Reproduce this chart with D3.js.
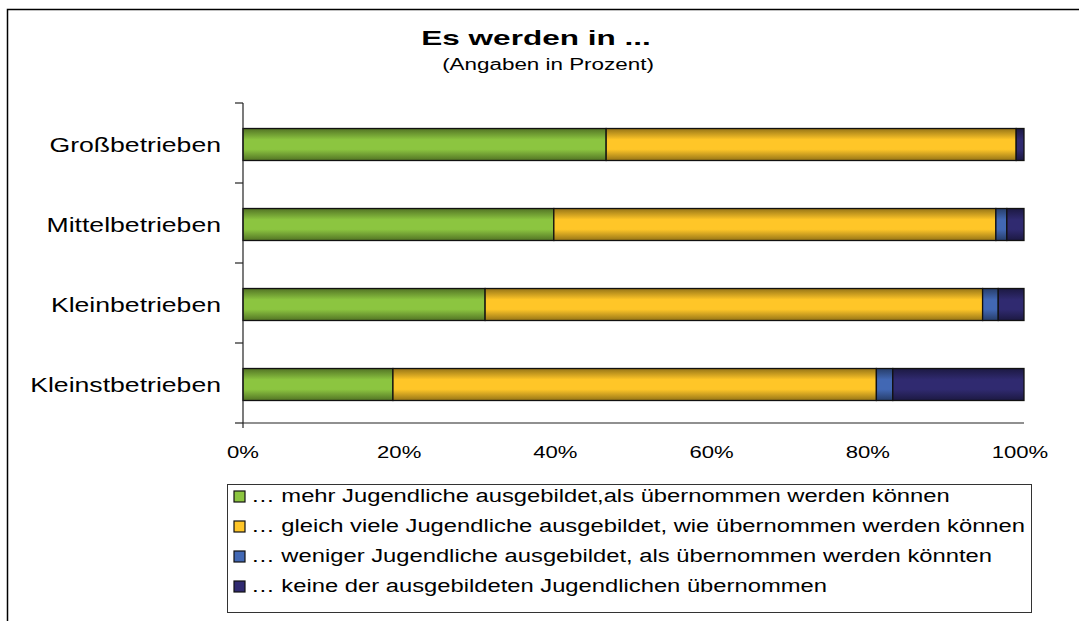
<!DOCTYPE html>
<html>
<head>
<meta charset="utf-8">
<script src="https://cdn.jsdelivr.net/npm/d3@7"></script>
<style>
  body { margin: 0; background: #fff; }
  svg { display: block; font-family: "Liberation Sans", Arial, sans-serif; }
</style>
</head>
<body>
<div id="chart"></div>
<script>
// Data (percent)
const categories = ["Großbetrieben", "Mittelbetrieben", "Kleinbetrieben", "Kleinstbetrieben"];
const seriesNames = [
    "… mehr Jugendliche ausgebildet,als übernommen werden können",
    "… gleich viele Jugendliche ausgebildet, wie übernommen werden können",
    "… weniger Jugendliche ausgebildet, als übernommen werden könnten",
    "… keine der ausgebildeten Jugendlichen übernommen"
];
const mehr = [46.5, 39.8, 31.0, 19.2];
const gleich = [52.5, 56.6, 63.7, 61.9];
const weniger = [0.0, 1.4, 2.0, 2.1];
const keine = [1.0, 2.2, 3.3, 16.8];
const tickLabels = ["0%", "20%", "40%", "60%", "80%", "100%"];
const colors = ["#8cc540", "#ffc628", "#4268b4", "#302a70"];

const width = 1079, height = 621;
const svg = d3.select("#chart").append("svg")
    .attr("width", width)
    .attr("height", height);

// the original font is drawn wider than Liberation Sans, so stretch text horizontally
function stretch(sel, k) {
    sel.each(function() {
        const len = this.getComputedTextLength();
        d3.select(this)
            .attr("textLength", len * k)
            .attr("lengthAdjust", "spacingAndGlyphs");
    });
}

// outer frame
svg.append("rect")
    .attr("x", 7.5).attr("y", 9.5)
    .attr("width", 1090).attr("height", 640)
    .attr("fill", "none").attr("stroke", "#000").attr("stroke-width", 1.5);

// gradients for the shaded bars
const defs = svg.append("defs");
colors.forEach((c, i) => {
    const dark = d3.color(c).darker(1.5).formatHex();
    const g = defs.append("linearGradient")
        .attr("id", "grad" + i)
        .attr("x1", 0).attr("y1", 0).attr("x2", 0).attr("y2", 1);
    g.append("stop").attr("offset", "0%").attr("stop-color", dark);
    g.append("stop").attr("offset", "35%").attr("stop-color", c);
    g.append("stop").attr("offset", "65%").attr("stop-color", c);
    g.append("stop").attr("offset", "100%").attr("stop-color", dark);
});

// title
svg.append("text")
    .attr("x", 536).attr("y", 45)
    .attr("text-anchor", "middle")
    .style("font-size", "21px").style("font-weight", "bold")
    .text("Es werden in ...")
    .call(stretch, 1.5);
svg.append("text")
    .attr("x", 548).attr("y", 70)
    .attr("text-anchor", "middle")
    .style("font-size", "16px")
    .text("(Angaben in Prozent)")
    .call(stretch, 1.4);

const x = d3.scaleLinear().domain([0, 100]).range([243, 1024]);
const y = d3.scaleBand().domain(categories).range([104.5, 424.5]).paddingInner(0.6).paddingOuter(0.3);
const yTicks = d3.scaleBand().domain(categories).range([103, 423]);

// stacked data
const table = categories.map((c, i) => ({
    cat: c, mehr: mehr[i], gleich: gleich[i], weniger: weniger[i], keine: keine[i]
}));
const keys = ["mehr", "gleich", "weniger", "keine"];
const stacked = d3.stack().keys(keys)(table);

svg.append("g").selectAll("g")
    .data(stacked)
    .join("g")
    .attr("fill", (d, i) => `url(#grad${i})`)
    .selectAll("rect")
    .data(d => d.filter(p => p[1] - p[0] > 0))
    .join("rect")
    .attr("x", d => x(d[0]))
    .attr("y", d => y(d.data.cat))
    .attr("width", d => x(d[1]) - x(d[0]))
    .attr("height", y.bandwidth())
    .attr("stroke", "#111")
    .attr("stroke-width", 1.3);

// y axis line and ticks
const axisG = svg.append("g").attr("stroke", "#222").attr("stroke-width", 1.2);
axisG.append("line")
    .attr("x1", 243).attr("x2", 243).attr("y1", 103).attr("y2", 428);
const yTickPos = categories.map(c => yTicks(c)).concat([423]);
axisG.selectAll("line.yt")
    .data(yTickPos)
    .join("line")
    .attr("class", "yt")
    .attr("x1", 235).attr("x2", 243)
    .attr("y1", d => d).attr("y2", d => d);
axisG.append("line")
    .attr("x1", 243).attr("x2", x(100)).attr("y1", 423).attr("y2", 423);

// category labels
svg.append("g").selectAll("text")
    .data(categories)
    .join("text")
    .attr("x", 221)
    .attr("y", d => y(d) + y.bandwidth() / 2)
    .attr("dy", "0.35em")
    .attr("text-anchor", "end")
    .style("font-size", "20px")
    .text(d => d)
    .call(stretch, 1.33);

// x tick labels
svg.append("g").selectAll("text")
    .data(tickLabels)
    .join("text")
    .attr("x", (d, i) => x(i * 20) + (i === 5 ? -4 : 0))
    .attr("y", 458)
    .attr("text-anchor", "middle")
    .style("font-size", "17px")
    .text(d => d)
    .call(stretch, 1.3);

// legend
const lg = svg.append("g");
lg.append("rect")
    .attr("x", 227.5).attr("y", 484.5)
    .attr("width", 804).attr("height", 128)
    .attr("fill", "#fff").attr("stroke", "#333").attr("stroke-width", 1);
const rowY = [496, 526, 556, 586];
seriesNames.forEach((name, i) => {
    lg.append("rect")
        .attr("x", 234).attr("y", rowY[i] - 5)
        .attr("width", 11).attr("height", 11)
        .attr("fill", colors[i]).attr("stroke", "#111").attr("stroke-width", 1.2);
    lg.append("text")
        .attr("x", 251).attr("y", rowY[i])
        .attr("dy", "0.35em")
        .style("font-size", "18px")
        .text(name)
        .call(stretch, 1.32);
});
</script>
</body>
</html>
